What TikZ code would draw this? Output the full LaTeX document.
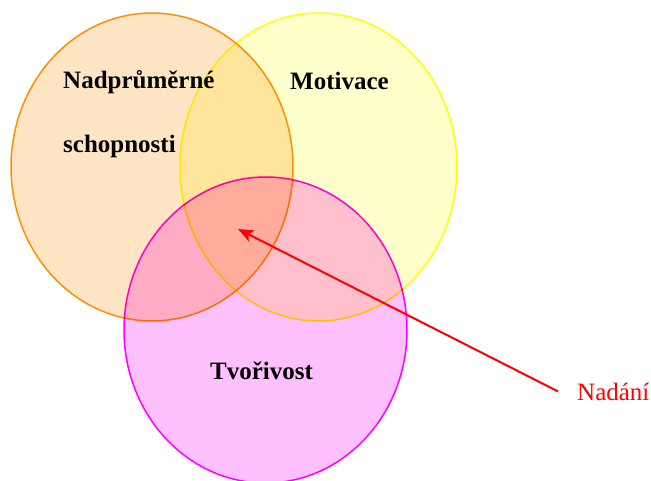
\documentclass[tikz,border=0pt]{standalone}
\usepackage{fontspec}
\setmainfont{Liberation Serif}
\usetikzlibrary{arrows.meta,positioning}
\definecolor{oranzova}{RGB}{255,153,0}
\definecolor{zluta}{RGB}{255,255,0}
\definecolor{fialova}{RGB}{255,0,255}
\definecolor{oranzovasv}{RGB}{255,229,196}
\definecolor{zlutasv}{RGB}{255,255,204}
\definecolor{fialovasv}{RGB}{255,192,255}
\tikzset{
  mnozina/.style={line width=1.5pt},
  popis/.style={font=\fontsize{25}{30}\selectfont\bfseries, anchor=base west, inner sep=0pt},
  sipka/.style={draw=red, line width=2pt, -{Stealth[length=15pt,width=12pt,inset=3pt]}}
}
\begin{document}
\begin{tikzpicture}[x=1pt,y=-1pt]
  \useasboundingbox (0,0) rectangle (651,481);
  \clip (0,0) rectangle (651,481);
  % tri mnoziny
  \begin{scope}[blend group=multiply]
    \draw[mnozina, draw=oranzova, fill=oranzovasv] (152,167) ellipse [x radius=141pt, y radius=154pt];
    \draw[mnozina, draw=zluta, fill=zlutasv] (318.5,167) ellipse [x radius=138.5pt, y radius=154pt];
    \draw[mnozina, draw=fialova, fill=fialovasv] (265.5,330) ellipse [x radius=141.5pt, y radius=153pt];
  \end{scope}

  \node[popis] (nadprumerne) at (63,89) {Nadprůměrné};
  \node[popis] (schopnosti) at (63,153) {schopnosti};
  \node[popis] (motivace) at (290,90) {Motivace};
  \node[popis] (tvorivost) at (210,379) {Tvořivost};

  % nadani
  \node[popis, font=\fontsize{25}{30}\selectfont, text=red] (nadani) at (577,400) {Nadání};
  \coordinate (stred) at (238,229);
  \coordinate[left=19pt of nadani.west] (zacatek);
  \draw[sipka] (zacatek) -- (stred);
\end{tikzpicture}
\end{document}
